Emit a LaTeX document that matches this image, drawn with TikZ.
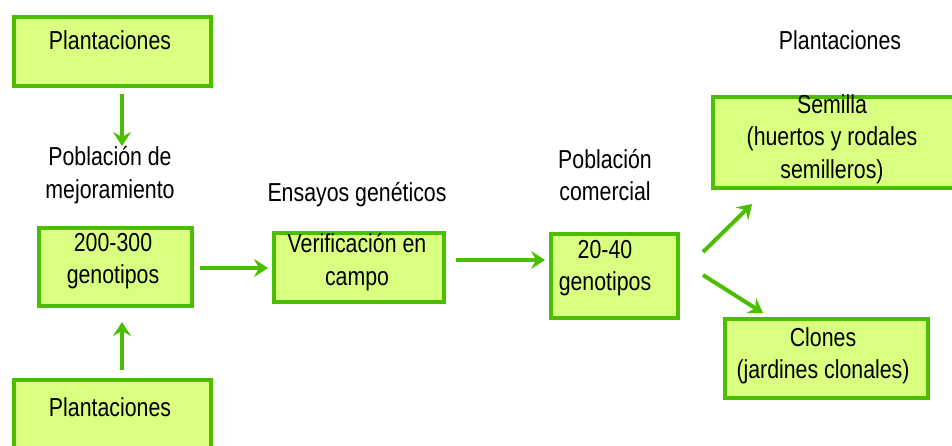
\documentclass[tikz,border=0pt]{standalone}
\usepackage{fontspec}
\setmainfont{Liberation Sans}[FakeStretch=0.82]
\usetikzlibrary{arrows.meta}
\definecolor{gfill}{RGB}{216,255,128}
\definecolor{gline}{RGB}{76,190,0}
\begin{document}
\begin{tikzpicture}[x=1pt,y=-1pt,
  box/.style={draw=gline, fill=gfill, line width=4pt, anchor=north west, inner sep=0pt},
  txt/.style={align=center, inner sep=0pt, font=\fontsize{26}{32.5}\selectfont},
  arr/.style={draw=gline, line width=4pt, -{Stealth[length=14pt,width=18pt,inset=5pt]}}]
\useasboundingbox (0,0) rectangle (952,445);
% boxes
\node[box, minimum width=197pt, minimum height=69pt] (p1) at (12,15) {};
\node[box, minimum width=153pt, minimum height=78pt] (g1) at (37,226) {};
\node[box, minimum width=170pt, minimum height=69pt] (v1) at (272,231) {};
\node[box, minimum width=127pt, minimum height=84pt] (g2) at (549,232) {};
\node[box, minimum width=250pt, minimum height=91pt] (s1) at (711,95) {};
\node[box, minimum width=203pt, minimum height=79pt] (c1) at (723,317) {};
\node[box, minimum width=197pt, minimum height=75pt] (p2) at (12,378) {};
% texts
\node[txt] (tp1) at (110,40) {Plantaciones};
\node[txt] (tpm) at (110,175) {Población de\\mejoramiento};
\node[txt] (tg1) at (113,261) {200-300\\genotipos};
\node[txt] (tes) at (357,195) {Ensayos genéticos};
\node[txt] (tv1) at (357,262) {Verificación en\\campo};
\node[txt] (tpc) at (605,175) {Población\\comercial};
\node[txt] (tg2) at (605,268) {20-40\\genotipos};
\node[txt] (tpr) at (840,40) {Plantaciones};
\node[txt] (ts1) at (832,139) {Semilla\\(huertos y rodales\\semilleros)};
\node[txt] (tc1) at (823,356) {Clones\\(jardines clonales)};
\node[txt] (tp2) at (110,407) {Plantaciones};
% arrow ends
\coordinate (a1s) at (122,94);
\coordinate (a1e) at (122,146);
\coordinate (a2s) at (122,370);
\coordinate (a2e) at (122,322);
\coordinate (a3s) at (200,268);
\coordinate (a3e) at (268,268);
\coordinate (a4s) at (456,260);
\coordinate (a4e) at (545,260);
\coordinate (a5s) at (703,252);
\coordinate (a5e) at (752,204);
\coordinate (a6s) at (703,275);
\coordinate (a6e) at (763,313);
\draw[arr] (a1s) -- (a1e);
\draw[arr] (a2s) -- (a2e);
\draw[arr] (a3s) -- (a3e);
\draw[arr] (a4s) -- (a4e);
\draw[arr] (a5s) -- (a5e);
\draw[arr] (a6s) -- (a6e);
\end{tikzpicture}
\end{document}
